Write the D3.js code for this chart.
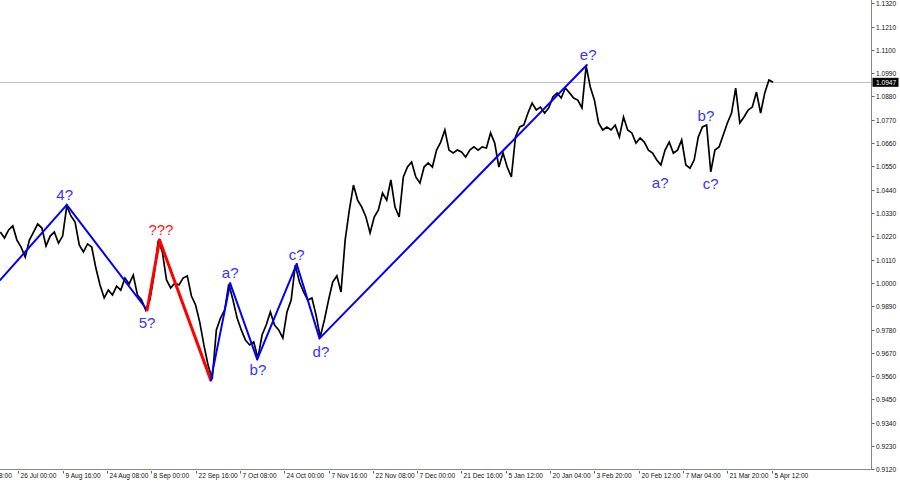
<!DOCTYPE html>
<html><head><meta charset="utf-8">
<script src="https://cdn.jsdelivr.net/npm/d3@7"></script>
<style>body{margin:0;background:#fff}svg{display:block}</style>
</head><body><svg id="c" width="900" height="485"></svg>
<script>
// ---- data ----
const barStart = 38, barStep = 6; // H4 bar index of first sample, bars between samples
const closes = [
1.0240,1.0212,1.0250,1.0269,1.0202,1.0169,1.0122,1.0202,1.0240,1.0278,
1.0259,1.0174,1.0221,1.0240,1.0188,1.0221,1.0363,1.0316,1.0287,1.0179,
1.0146,1.0184,1.0169,1.0070,0.9990,0.9929,0.9966,0.9943,0.9985,0.9966,
1.0023,0.9995,1.0037,0.9943,0.9919,0.9872,0.9919,1.0037,1.0200,1.0146,
1.0014,0.9976,0.9999,0.9990,1.0023,1.0033,0.9938,0.9896,0.9815,0.9707,
0.9612,0.9545,0.9778,0.9834,0.9872,0.9995,0.9919,0.9834,0.9778,0.9730,
0.9707,0.9721,0.9645,0.9754,0.9801,0.9863,0.9801,0.9778,0.9740,0.9863,
0.9919,1.0084,1.0004,0.9957,0.9919,0.9929,0.9848,0.9745,0.9825,0.9919,
1.0004,1.0033,0.9957,1.0202,1.0344,1.0462,1.0391,1.0358,1.0311,1.0236,
1.0311,1.0344,1.0424,1.0391,1.0486,1.0358,1.0311,1.0500,1.0547,1.0571,
1.0500,1.0472,1.0547,1.0566,1.0547,1.0627,1.0665,1.0722,1.0627,1.0613,
1.0627,1.0618,1.0594,1.0627,1.0642,1.0627,1.0642,1.0637,1.0708,1.0660,
1.0547,1.0613,1.0547,1.0500,1.0689,1.0736,1.0745,1.0802,1.0849,1.0816,
1.0830,1.0802,1.0826,1.0878,1.0897,1.0873,1.0920,1.0897,1.0873,1.0863,
1.0826,1.1024,1.0925,1.0863,1.0755,1.0722,1.0736,1.0722,1.0745,1.0689,
1.0783,1.0722,1.0708,1.0660,1.0684,1.0665,1.0627,1.0613,1.0580,1.0557,
1.0627,1.0665,1.0613,1.0627,1.0675,1.0557,1.0542,1.0580,1.0689,1.0736,
1.0745,1.0524,1.0627,1.0642,1.0698,1.0755,1.0802,1.0920,1.0755,1.0783,
1.0816,1.0830,1.0901,1.0802,1.0897,1.0958,1.0947
];
const lastPrice = 1.0947;
const waveBars   = [38, 134, 250, 268, 342, 370, 409, 466, 499, 885];
const wavePrices = [1.0014, 1.0368, 0.9872, 1.0202, 0.9541, 0.9998, 0.9639, 1.0089, 0.9738, 1.1029];
const labelTexts  = ["4?", "5?", "???", "a?", "b?", "c?", "d?", "e?", "a?", "b?", "c?"];
const labelBars   = [131, 250, 270, 370, 410, 466, 501, 887, 991, 1057, 1064];
const labelPrices = [1.0415, 0.9811, 1.0254, 1.0051, 0.9589, 1.0136, 0.9674, 1.1076, 1.0472, 1.0788, 1.0467];
const priceTicks = ["0.9120","0.9230","0.9340","0.9450","0.9560","0.9670","0.9780","0.9890","1.0000","1.0110",
  "1.0220","1.0330","1.0440","1.0550","1.0660","1.0770","1.0880","1.0990","1.1100","1.1210","1.1320"];
const timeLabels = ["11 Jul 08:00","26 Jul 00:00","9 Aug 16:00","24 Aug 08:00","8 Sep 00:00","22 Sep 16:00",
  "7 Oct 08:00","24 Oct 00:00","7 Nov 16:00","22 Nov 08:00","7 Dec 00:00","21 Dec 16:00","5 Jan 12:00",
  "20 Jan 04:00","3 Feb 20:00","20 Feb 12:00","7 Mar 04:00","21 Mar 20:00","5 Apr 12:00"];
const timeLabelStep = 64; // bars between time labels

// ---- layout ----
const svg = d3.select("#c");
const plotR = 871.5, plotB = 469.5;
const x = d3.scaleLinear().domain([0, 1152]).range([-26.0, 771.7]);
const y = d3.scaleLinear().domain([0.9120, 1.1320]).range([469.3, 3.3]);

svg.append("defs").append("clipPath").attr("id","clip")
  .append("rect").attr("x",0).attr("y",0).attr("width",plotR).attr("height",plotB);

const plot = svg.append("g").attr("clip-path","url(#clip)");

// current price line
plot.append("line").attr("x1",0).attr("x2",plotR)
  .attr("y1",Math.round(y(lastPrice))+0.5).attr("y2",Math.round(y(lastPrice))+0.5)
  .attr("stroke","#c0c0c0").attr("stroke-width",1);

// price series
const pts = closes.map((c,i)=>[barStart+barStep*i, c]);
plot.append("path").datum(pts)
  .attr("fill","none").attr("stroke","#000").attr("stroke-width",1.7).attr("stroke-linejoin","miter")
  .attr("d", d3.line().x(d=>x(d[0])).y(d=>y(d[1])));

// wave lines
const redSeg = new Set([2,3]);
for (let k=0;k<waveBars.length-1;k++){
  plot.append("line")
    .attr("x1",x(waveBars[k])).attr("y1",y(wavePrices[k]))
    .attr("x2",x(waveBars[k+1])).attr("y2",y(wavePrices[k+1]))
    .attr("stroke", redSeg.has(k) ? "#ff0000" : "#0000ff")
    .attr("stroke-width", redSeg.has(k) ? 3 : 2).attr("stroke-linecap","round");
}

// labels
labelTexts.forEach((t,i)=>{
  plot.append("text").attr("x",x(labelBars[i])).attr("y",y(labelPrices[i]))
    .attr("text-anchor","middle").attr("dominant-baseline","central")
    .attr("font-family","Liberation Sans, Arial, sans-serif").attr("font-size",15)
    .attr("fill", t==="???" ? "#ff2020" : "#3535ff").text(t);
});

// axes frame
svg.append("line").attr("x1",plotR).attr("x2",plotR).attr("y1",0).attr("y2",plotB)
  .attr("stroke","#888").attr("stroke-width",1);
svg.append("line").attr("x1",0).attr("x2",plotR).attr("y1",plotB).attr("y2",plotB)
  .attr("stroke","#888").attr("stroke-width",1);

// right price axis
const fam = "Liberation Sans, Arial, sans-serif";
priceTicks.forEach(s=>{
  const yy = Math.round(y(+s))+0.5;
  svg.append("line").attr("x1",plotR).attr("x2",plotR+3).attr("y1",yy).attr("y2",yy)
    .attr("stroke","#666").attr("stroke-width",1);
  svg.append("text").attr("x",876).attr("y",yy).attr("dominant-baseline","central")
    .attr("font-family",fam).attr("font-size",6.6).attr("fill","#111").text(s);
});
// current price box
const yl = y(lastPrice);
svg.append("rect").attr("x",872.5).attr("y",yl-4.5).attr("width",26).attr("height",9).attr("fill","#000");
svg.append("text").attr("x",876).attr("y",yl).attr("dominant-baseline","central")
  .attr("font-family",fam).attr("font-size",6.6).attr("fill","#fff").text(lastPrice.toFixed(4));

// bottom time axis
timeLabels.forEach((s,k)=>{
  const xx = Math.round(x(k*timeLabelStep))+0.5;
  svg.append("line").attr("x1",xx).attr("x2",xx).attr("y1",plotB+1.5).attr("y2",plotB+4)
    .attr("stroke","#666").attr("stroke-width",1);
  svg.append("text").attr("x",xx+2).attr("y",475.5).attr("dominant-baseline","central")
    .attr("font-family",fam).attr("font-size",6.6).attr("fill","#111").text(s);
});
</script></body></html>
